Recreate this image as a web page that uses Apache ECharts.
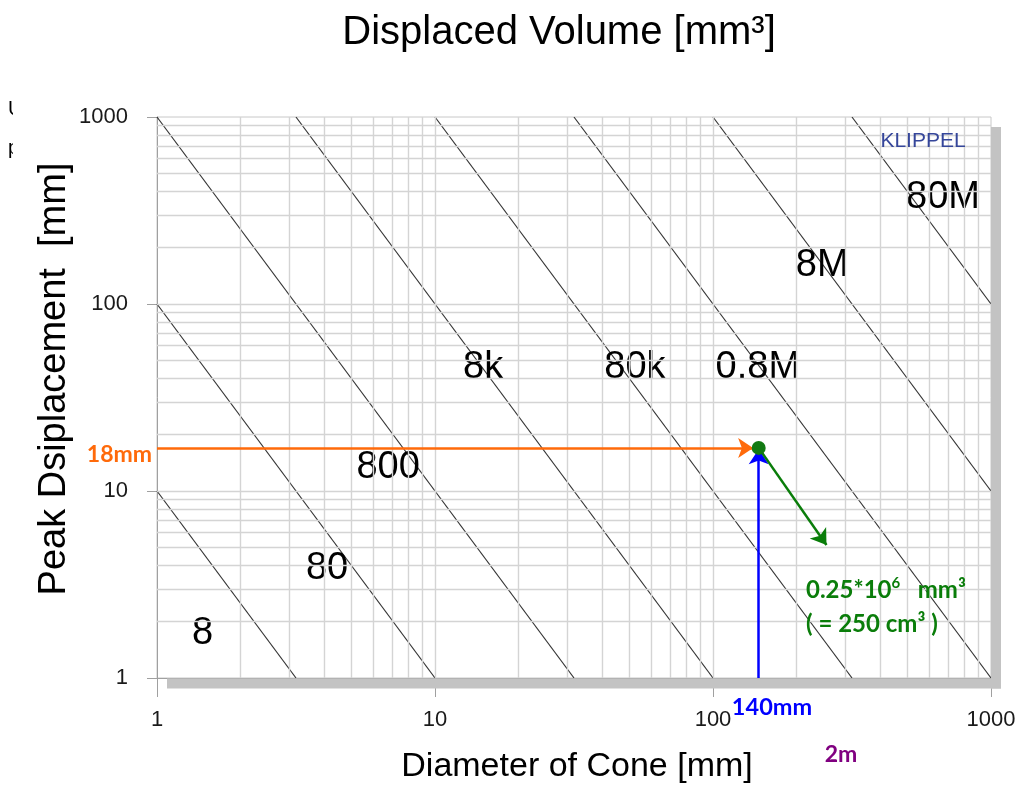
<!DOCTYPE html>
<html>
<head>
<meta charset="utf-8">
<script src="https://cdn.jsdelivr.net/npm/echarts@6/dist/echarts.min.js"></script>
<style>html,body{margin:0;padding:0;background:#fff}#c{width:1020px;height:785px}</style>
</head>
<body>
<div id="c"></div>
<script>
// ---- data ----
const volumeLabels = ['8', '80', '800', '8k', '80k', '0.8M', '8M', '80M'];
const lineStarts = [[1, 10], [1, 100], [1, 1000], [3.162, 1000], [10, 1000], [31.62, 1000], [100, 1000], [316.2, 1000]];
const lineEnds = [[3.162, 1], [10, 1], [31.62, 1], [100, 1], [316.2, 1], [1000, 1], [1000, 10], [1000, 100]];
const labelPositions = [[1.46, 1.72], [4.09, 3.83], [6.78, 13.4], [14.9, 45.5], [52.4, 45.5], [145, 45.5], [247, 160], [672, 371]];
const gridValues = [2, 3, 4, 5, 6, 7, 8, 9, 10, 20, 30, 40, 50, 60, 70, 80, 90, 100, 200, 300, 400, 500, 600, 700, 800, 900];
const axisTickLabels = ['1', '10', '100', '1000'];
const coneDiameter = 146;     // blue arrow position (mm)
const peakDisplacement = 17;  // orange arrow position (mm)
const volumeArrowTip = [256, 5.14];

const chart = echarts.init(document.getElementById('c'), null, {renderer: 'canvas'});
const F = 'Liberation Sans, Arial, sans-serif';
const B = 'Lato, Liberation Sans, sans-serif';

const series = [];
// grid lines
series.push({
  type: 'line', data: [], silent: true,
  markLine: {
    silent: true, symbol: 'none', label: {show: false}, animation: false,
    lineStyle: {color: '#d4d4d4', width: 1.4, type: 'solid'},
    data: gridValues.map(v => ({xAxis: v})).concat(gridValues.map(v => ({yAxis: v})))
  }
});
// constant volume lines
for (let i = 0; i < volumeLabels.length; i++) {
  series.push({
    type: 'line', name: volumeLabels[i], data: [lineStarts[i], lineEnds[i]],
    symbol: 'none', silent: true, lineStyle: {color: '#333', width: 1.2}, z: 3
  });
}
// volume labels
series.push({
  type: 'scatter', silent: true, symbolSize: 0, itemStyle: {color: '#000', opacity: 1}, z: 4,
  data: labelPositions.map((p, i) => ({value: p, name: volumeLabels[i]})),
  label: {show: true, position: 'inside', formatter: p => p.name, fontFamily: F, fontSize: 38,
    color: '#000', opacity: 1, textBorderWidth: 0}
});
// arrows
series.push({
  type: 'lines', coordinateSystem: 'cartesian2d', silent: true, z: 6,
  symbol: ['none', 'arrow'], symbolSize: 15,
  data: [
    {coords: [[1, peakDisplacement], [coneDiameter * 0.955, peakDisplacement]], lineStyle: {color: '#ff6a0a', width: 2.5, opacity: 1}},
    {coords: [[coneDiameter, 1], [coneDiameter, peakDisplacement * 0.985]], lineStyle: {color: '#0000ff', width: 2.5, opacity: 1}},
    {coords: [[coneDiameter, peakDisplacement], volumeArrowTip], lineStyle: {color: '#0a7d0a', width: 2.5, opacity: 1}}
  ],
  lineStyle: {opacity: 1}
});
series.push({
  type: 'scatter', silent: true, z: 7, symbolSize: 14,
  itemStyle: {color: '#127a12', opacity: 1}, data: [[coneDiameter, peakDisplacement]]
});

const axisCommon = {
  type: 'log', logBase: 10, min: 1, max: 1000,
  splitLine: {show: false}, minorSplitLine: {show: false},
  axisLine: {show: true, lineStyle: {color: '#a0a0a0', width: 1}},
  axisLabel: {fontFamily: F, fontSize: 22, color: '#1a1a1a',
    formatter: v => axisTickLabels[Math.round(Math.log10(v))]}
};

const option = {
  animation: false,
  backgroundColor: '#fff',
  grid: {left: 157, right: 29, top: 117, bottom: 107, show: true, backgroundColor: '#fff', borderColor: '#c8c8c8', borderWidth: 1},
  xAxis: Object.assign({}, axisCommon, {
    axisTick: {show: true, length: 19, lineStyle: {color: '#a0a0a0'}},
    axisLabel: Object.assign({}, axisCommon.axisLabel, {margin: 31})
  }),
  yAxis: Object.assign({}, axisCommon, {
    axisTick: {show: true, length: 10, lineStyle: {color: '#a0a0a0'}},
    axisLabel: Object.assign({}, axisCommon.axisLabel, {margin: 29})
  }),
  series: series,
  graphic: [
    // drop shadow of plot area
    {type: 'rect', z: 50, silent: true, shape: {x: 167, y: 678.5, width: 834, height: 10}, style: {fill: '#c3c3c3'}},
    {type: 'rect', z: 50, silent: true, shape: {x: 991, y: 127, width: 10, height: 561.5}, style: {fill: '#c3c3c3'}},
    // clipped fragments at left edge
    {type: 'text', z: 55, x: 8, y: 109, style: {text: 'U', fontFamily: F, fontSize: 20, fill: '#000', align: 'left', verticalAlign: 'middle'}},
    {type: 'text', z: 55, x: 8, y: 148, style: {text: 'p', fontFamily: F, fontSize: 20, fill: '#000', align: 'left', verticalAlign: 'middle'}},
    {type: 'rect', z: 56, silent: true, shape: {x: 13, y: 90, width: 17, height: 80}, style: {fill: '#fff'}},
    // title & axis names
    {type: 'text', z: 60, x: 559, y: 33, style: {text: 'Displaced Volume [mm³]', fontFamily: F, fontSize: 40, fill: '#000', align: 'center', verticalAlign: 'middle'}},
    {type: 'text', z: 60, x: 577, y: 767, style: {text: 'Diameter of Cone [mm]', fontFamily: F, fontSize: 34, fill: '#000', align: 'center', verticalAlign: 'middle'}},
    {type: 'text', z: 60, x: 55, y: 379, rotation: Math.PI / 2, style: {text: 'Peak Dsiplacement  [mm]', fontFamily: F, fontSize: 38, fill: '#000', align: 'center', verticalAlign: 'middle'}},
    {type: 'text', z: 60, x: 923, y: 141, style: {text: 'KLIPPEL', fontFamily: F, fontSize: 21, fill: '#35469a', align: 'center', verticalAlign: 'middle'}},
    // annotations
    {type: 'text', z: 60, x: 152, y: 455, style: {text: '18mm', fontFamily: B, fontWeight: 'bold', fontSize: 23, fill: '#ff6a0a', align: 'right', verticalAlign: 'middle'}},
    {type: 'text', z: 60, x: 772, y: 707, style: {text: '140mm', fontFamily: B, fontWeight: 'bold', fontSize: 23.5, fill: '#0000ff', align: 'center', verticalAlign: 'middle'}},
    {type: 'text', z: 60, x: 841, y: 755, style: {text: '2m', fontFamily: B, fontWeight: 'bold', fontSize: 23, fill: '#800080', align: 'center', verticalAlign: 'middle'}},
    {type: 'text', z: 60, x: 806, y: 590, style: {
      text: '0.25*10{sup|6}   mm³', fontFamily: B, fontWeight: 'bold', fontSize: 24, fill: '#0a7d0a', align: 'left', verticalAlign: 'middle',
      rich: {sup: {fontFamily: B, fontWeight: 'bold', fontSize: 15, fill: '#0a7d0a', verticalAlign: 'top', padding: [0, 0, 14, 0]}}
    }},
    {type: 'text', z: 60, x: 806, y: 624, style: {text: '( = 250 cm³ )', fontFamily: B, fontWeight: 'bold', fontSize: 24, fill: '#0a7d0a', align: 'left', verticalAlign: 'middle'}}
  ]
};
chart.setOption(option);
</script>
</body>
</html>
